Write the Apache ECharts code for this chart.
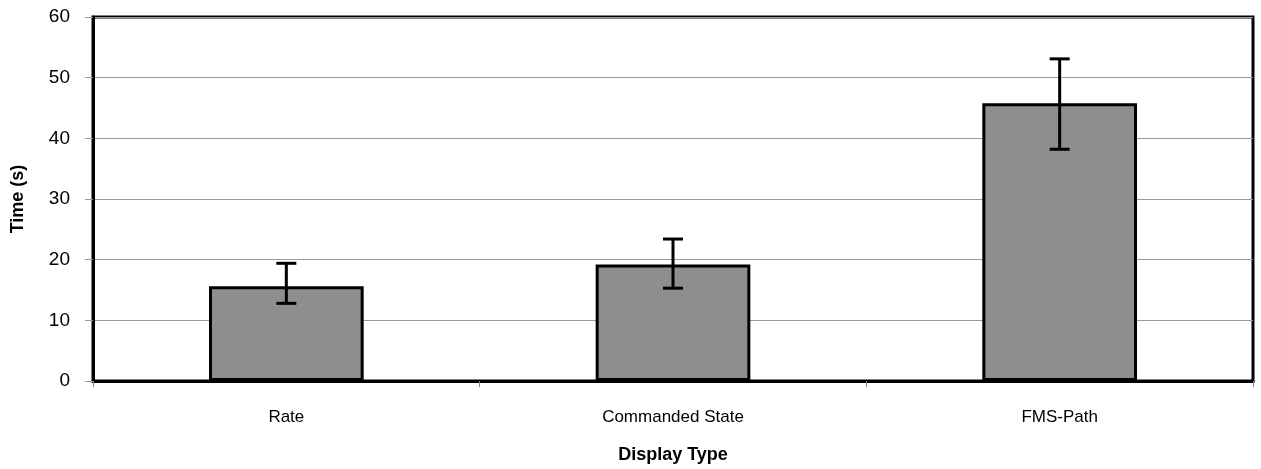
<!DOCTYPE html>
<html><head><meta charset="utf-8">
<script src="https://cdn.jsdelivr.net/npm/echarts@6/dist/echarts.min.js"></script>
<style>html,body{margin:0;padding:0;background:#fff}#c{width:1261px;height:469px}</style>
</head><body><div id="c"></div>
<script>
const categories = ["Rate", "Commanded State", "FMS-Path"];
const meanTime = [15.6, 19.2, 45.8];
const errLow = [12.8, 15.3, 38.2];
const errHigh = [19.4, 23.4, 53.1];
const yTicks = [0, 10, 20, 30, 40, 50, 60];

const chart = echarts.init(document.getElementById('c'));
const font = '"Liberation Sans", Arial, sans-serif';
chart.setOption({
  animation: false,
  grid: {left: 93, right: 8, top: 17, bottom: 87, show: true, borderColor: '#000', borderWidth: 3, backgroundColor: 'transparent'},
  xAxis: {
    type: 'category', data: categories,
    name: 'Display Type', nameLocation: 'middle', nameGap: 65,
    nameTextStyle: {fontFamily: font, fontWeight: 'bold', fontSize: 18, color: '#000'},
    axisLine: {lineStyle: {color: '#000', width: 3}},
    axisTick: {show: true, length: 6, lineStyle: {color: '#888', width: 1}},
    axisLabel: {fontFamily: font, fontSize: 17, color: '#000', margin: 28}
  },
  yAxis: {
    type: 'value', min: 0, max: 60, interval: 10,
    name: 'Time (s)', nameLocation: 'middle', nameGap: 66, nameRotate: 90,
    nameTextStyle: {fontFamily: font, fontWeight: 'bold', fontSize: 18, color: '#000'},
    axisLine: {show: true, lineStyle: {color: '#000', width: 3}},
    axisTick: {show: true, length: 8, lineStyle: {color: '#999', width: 1}},
    axisLabel: {fontFamily: font, fontSize: 19, color: '#000', margin: 23,
      formatter: v => yTicks.includes(v) ? String(v) : ''},
    splitLine: {lineStyle: {color: '#9a9a9a', width: 1}}
  },
  series: [
    {type: 'bar', data: meanTime, barWidth: '40%',
     itemStyle: {color: '#8e8e8e', borderColor: '#000', borderWidth: 3}},
    {type: 'custom', data: categories.map((c, i) => [i, errLow[i], errHigh[i]]),
     renderItem: (params, api) => {
       const lo = api.coord([api.value(0), api.value(1)]);
       const hi = api.coord([api.value(0), api.value(2)]);
       const w = 10;
       const st = {stroke: '#000', lineWidth: 3};
       return {type: 'group', children: [
         {type: 'line', shape: {x1: hi[0], y1: hi[1], x2: lo[0], y2: lo[1]}, style: st},
         {type: 'line', shape: {x1: hi[0]-w, y1: hi[1], x2: hi[0]+w, y2: hi[1]}, style: st},
         {type: 'line', shape: {x1: lo[0]-w, y1: lo[1], x2: lo[0]+w, y2: lo[1]}, style: st}
       ]};
     }, z: 10}
  ]
});
</script></body></html>
